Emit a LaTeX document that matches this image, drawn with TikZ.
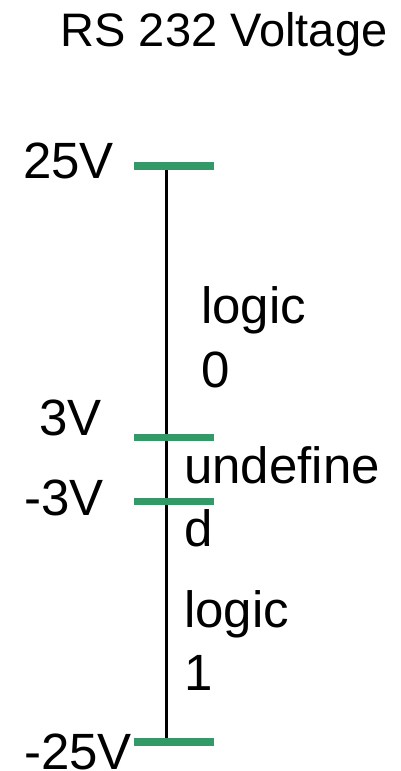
\documentclass[tikz,border=0pt]{standalone}
\usepackage{fontspec}
\setmainfont{Liberation Sans}
\definecolor{tickgreen}{RGB}{51,153,102}
\begin{document}
\begin{tikzpicture}[x=1pt,y=-1pt,
  lbl/.style={inner sep=0pt,anchor=base west,font=\fontsize{51}{63.5}\selectfont,align=left},
  ttl/.style={inner sep=0pt,anchor=base,font=\fontsize{47}{56}\selectfont},
  tick/.style={draw=tickgreen,line width=7.5pt},
  axis/.style={draw=black,line width=3pt}]
\useasboundingbox (0,0) rectangle (400,771);
% title
\node[ttl] (title) at (224,46) {RS 232 Voltage};
% tick positions on the axis
\coordinate (t25) at (166,166);
\coordinate (t3) at (166,437.5);
\coordinate (tm3) at (166,501.7);
\coordinate (tm25) at (166,742);
% axis
\draw[axis] (t25) -- (tm25);
% ticks
\foreach \c in {t25,t3,tm3,tm25}
  \draw[tick] ([xshift=-32pt]\c) -- ([xshift=48pt]\c);
% voltage labels
\node[lbl] (v25) at (23,178.3) {25V};
\node[lbl] (v3) at (39,435) {3V};
\node[lbl] (vm3) at (24,515) {-3V};
\node[lbl] (vm25) at (24,769.5) {-25V};
% region labels (anchored at the baseline of their last line)
\node[lbl] (l0) at (201,387.3) {logic\\0};
\node[lbl] (ud) at (184,546.7) {undefine\\d};
\node[lbl] (l1) at (184,690.7) {logic\\1};
\end{tikzpicture}
\end{document}
